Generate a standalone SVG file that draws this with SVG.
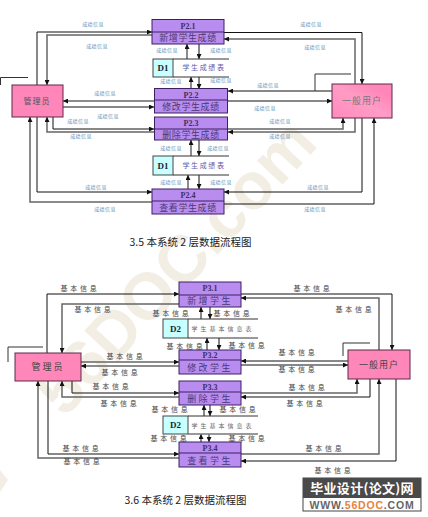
<svg xmlns="http://www.w3.org/2000/svg" width="428" height="517" viewBox="0 0 428 517">
<style>
text{font-family:"Liberation Serif","Noto Sans CJK SC",serif;text-anchor:middle}
.p{fill:#b98cf0;stroke:#3c2060;stroke-width:1}
.d{fill:none;stroke:#3c2060;stroke-width:1}
.e{fill:#ff86b8;stroke:#5a2a4a;stroke-width:1}
.s{fill:#c8ffff;stroke:#444;stroke-width:1}
.sl{fill:none;stroke:#333;stroke-width:1}
.sg{fill:none;stroke:#777;stroke-width:1.5}
.c{fill:none;stroke:#111;stroke-width:1}
.g{fill:none;stroke:#666;stroke-width:1.5}
.id{font-size:8px;font-weight:bold;fill:#40305a}
.nm{font-size:9px;fill:#4a3a70;letter-spacing:.6px;font-family:"Noto Sans CJK SC",sans-serif}
.en{font-size:8px;fill:#555;letter-spacing:1px;font-family:"Noto Sans CJK SC",sans-serif}
.f{font-size:5px;fill:#5f8fb5;letter-spacing:.4px;font-family:"Noto Sans CJK SC",sans-serif}
.b{font-size:7px;fill:#444;letter-spacing:2.8px;font-family:"Noto Sans CJK SC",sans-serif}
.st{font-size:7px;fill:#5a5ab0;letter-spacing:1.6px;font-family:"Noto Sans CJK SC",sans-serif}
.st2{font-size:6px;fill:#666;letter-spacing:3px;font-family:"Noto Sans CJK SC",sans-serif}
.sid{font-size:9px;fill:#223;font-weight:bold}
.n3{font-size:9px;fill:#4a3a70;letter-spacing:2.4px;font-family:"Noto Sans CJK SC",sans-serif}
.cap{font-size:10.500px;fill:#222;font-family:"Noto Sans CJK SC",sans-serif}
</style>
<defs>
<marker id="a" viewBox="0 0 6 6" refX="6" refY="3" markerWidth="6" markerHeight="5" markerUnits="userSpaceOnUse" orient="auto"><path d="M0 0L6 3L0 6Z" fill="#111"/></marker>
<linearGradient id="u" x1="0" y1="1" x2="1" y2="0"><stop offset="0" stop-color="#ff8abc"/><stop offset=".5" stop-color="#ff9cc6"/><stop offset=".8" stop-color="#ff86b8"/></linearGradient>
</defs>
<g id="watermark" fill="#f3eee4">
<text x="214" y="258" transform="translate(-22 24) rotate(-47 214 258)" style="font-family:'Liberation Sans',sans-serif;font-size:66px;font-weight:bold;fill:#f3eee4;text-anchor:middle">56DOC.com</text>
<path d="M0 470L8 480L0 492Z"/>
</g>
<g id="connectors">
<path class="c" d="M37 85V32H152" marker-end="url(#a)"/>
<path class="g" d="M152 35H47V85" marker-end="url(#a)"/>
<path class="c" d="M224 32.500H362V84" marker-end="url(#a)"/>
<path class="g" d="M355 84V39H224" marker-end="url(#a)"/>
<path class="g" d="M154 101H63" marker-end="url(#a)"/>
<path class="c" d="M63 107H154" marker-end="url(#a)"/>
<path class="c" d="M332 91H228" marker-end="url(#a)"/>
<path class="c" d="M228 101H332" marker-end="url(#a)"/>
<path class="c" d="M53 117V129H154" marker-end="url(#a)"/>
<path class="g" d="M154 132H47V117" marker-end="url(#a)"/>
<path class="c" d="M37 117V192H152" marker-end="url(#a)"/>
<path class="g" d="M152 202H30V117" marker-end="url(#a)"/>
<path class="g" d="M228 129H343V118" marker-end="url(#a)"/>
<path class="g" d="M355 118V132H228" marker-end="url(#a)"/>
<path class="c" d="M362 118V192H224" marker-end="url(#a)"/>
<path class="c" d="M224 204H374V118" marker-end="url(#a)"/>
<path class="g" d="M187 59V44" marker-end="url(#a)"/>
<path class="c" d="M199 44V59" marker-end="url(#a)"/>
<path class="g" d="M191 89V77" marker-end="url(#a)"/>
<path class="c" d="M199 77V89" marker-end="url(#a)"/>
<path class="g" d="M191 156V140" marker-end="url(#a)"/>
<path class="c" d="M199 140V156" marker-end="url(#a)"/>
<path class="g" d="M188 189V175" marker-end="url(#a)"/>
<path class="c" d="M199 175V189" marker-end="url(#a)"/>
<path class="c" d="M47 353V294H179" marker-end="url(#a)"/>
<path class="g" d="M179 304H62V353" marker-end="url(#a)"/>
<path class="g" d="M81 362H179" marker-end="url(#a)"/>
<path class="g" d="M179 366H81" marker-end="url(#a)"/>
<path class="c" d="M72 381V393H179" marker-end="url(#a)"/>
<path class="g" d="M179 397H62V381" marker-end="url(#a)"/>
<path class="c" d="M48 381V454H179" marker-end="url(#a)"/>
<path class="g" d="M179 458H38V381" marker-end="url(#a)"/>
<path class="c" d="M241 294H392V350" marker-end="url(#a)"/>
<path class="g" d="M379 350V298H241" marker-end="url(#a)"/>
<path class="c" d="M348 361H241" marker-end="url(#a)"/>
<path class="c" d="M241 365H348" marker-end="url(#a)"/>
<path class="g" d="M241 393H357V379" marker-end="url(#a)"/>
<path class="c" d="M370 379V397H241" marker-end="url(#a)"/>
<path class="g" d="M241 454H379V379" marker-end="url(#a)"/>
<path class="c" d="M396 379V461H241" marker-end="url(#a)"/>
<path class="c" d="M201 319V307" marker-end="url(#a)"/>
<path class="c" d="M210 307V319" marker-end="url(#a)"/>
<path class="c" d="M207 350V338" marker-end="url(#a)"/>
<path class="c" d="M219 338V350" marker-end="url(#a)"/>
<path class="c" d="M204 416V405" marker-end="url(#a)"/>
<path class="c" d="M210 405V416" marker-end="url(#a)"/>
<path class="c" d="M201 442V434" marker-end="url(#a)"/>
<path class="c" d="M209 434V442" marker-end="url(#a)"/>
</g>
<g id="labels-top">
<text class="f" x="93" y="26">成绩信息</text>
<text class="f" x="97" y="48">成绩信息</text>
<text class="f" x="105" y="95">成绩信息</text>
<text class="f" x="108" y="118">成绩信息</text>
<text class="f" x="78" y="123">成绩信息</text>
<text class="f" x="81" y="138">成绩信息</text>
<text class="f" x="96" y="189">成绩信息</text>
<text class="f" x="105" y="211">成绩信息</text>
<text class="f" x="167" y="52">成绩信息</text>
<text class="f" x="221" y="52">成绩信息</text>
<text class="f" x="171" y="83">成绩信息</text>
<text class="f" x="221" y="82">成绩信息</text>
<text class="f" x="171" y="150">成绩信息</text>
<text class="f" x="218" y="150">成绩信息</text>
<text class="f" x="171" y="184">成绩信息</text>
<text class="f" x="221" y="184">成绩信息</text>
<text class="f" x="311" y="26">成绩信息</text>
<text class="f" x="315" y="49">成绩信息</text>
<text class="f" x="268" y="87">成绩信息</text>
<text class="f" x="265" y="110">成绩信息</text>
<text class="f" x="280" y="123">成绩信息</text>
<text class="f" x="280" y="138">成绩信息</text>
<text class="f" x="318" y="189">成绩信息</text>
<text class="f" x="315" y="211">成绩信息</text>
</g>
<g id="labels-bottom">
<text class="b" x="80" y="291">基本信息</text>
<text class="b" x="94" y="312">基本信息</text>
<text class="b" x="172" y="316">基本信息</text>
<text class="b" x="233" y="316">基本信息</text>
<text class="b" x="186" y="349">基本信息</text>
<text class="b" x="248" y="348">基本信息</text>
<text class="b" x="126" y="359">基本信息</text>
<text class="b" x="121" y="375">基本信息</text>
<text class="b" x="112" y="389">基本信息</text>
<text class="b" x="313" y="291">基本信息</text>
<text class="b" x="355" y="312">基本信息</text>
<text class="b" x="298" y="355">基本信息</text>
<text class="b" x="298" y="372">基本信息</text>
<text class="b" x="308" y="390">基本信息</text>
<text class="b" x="120" y="406">基本信息</text>
<text class="b" x="306" y="406">基本信息</text>
<text class="b" x="171" y="412">基本信息</text>
<text class="b" x="239" y="412">基本信息</text>
<text class="b" x="170" y="441">基本信息</text>
<text class="b" x="248" y="441">基本信息</text>
<text class="b" x="82" y="451">基本信息</text>
<text class="b" x="83" y="464">基本信息</text>
<text class="b" x="325" y="451">基本信息</text>
<text class="b" x="334" y="473">基本信息</text>
</g>
<g id="admin1"><rect class="e" x="12" y="85" width="51" height="32"/><path class="sl" d="M.5 85V77.500H28"/><text class="en" x="37" y="104">管理员</text></g>
<g id="user1"><rect class="e" style="fill:url(#u)" x="332" y="84" width="60" height="34"/><path class="sl" d="M315 91V74H351"/><text class="en" style="font-size:9px;fill:#777" x="362" y="104">一般用户</text></g>
<g id="p21"><rect class="p" x="152" y="19.500" width="72" height="24.500"/><path class="d" d="M152 32H224"/><text class="id" x="188" y="29">P2.1</text><text class="nm" x="188" y="41">新增学生成绩</text></g>
<g id="p22"><rect class="p" x="154.500" y="88.500" width="73" height="24.500"/><path class="d" d="M154.500 100H227.500"/><text class="id" x="191" y="97.500">P2.2</text><text class="nm" x="191" y="110">修改学生成绩</text></g>
<g id="p23"><rect class="p" x="154.500" y="117" width="73" height="23"/><path class="d" d="M154.500 129H227.500"/><text class="id" x="191" y="125.500">P2.3</text><text class="nm" x="191" y="138">删除学生成绩</text></g>
<g id="p24"><rect class="p" x="152" y="189" width="72" height="25"/><path class="d" d="M152 201H224"/><text class="id" x="188" y="198">P2.4</text><text class="nm" x="188" y="211">查看学生成绩</text></g>
<g id="d1a"><rect class="s" x="153" y="59" width="20" height="18"/><path class="sl" d="M173 59H229M173 77H229"/><text class="sid" x="163" y="71">D1</text><text class="st" x="204" y="70">学生成绩表</text></g>
<g id="d1b"><rect class="s" x="153" y="156" width="20" height="19"/><path class="sl" d="M173 156H229M173 175H229"/><text class="sid" x="163" y="168.500">D1</text><text class="st" x="204" y="168">学生成绩表</text></g>
<text class="cap" x="190.500" y="246">3.5  本系统 2 层数据流程图</text>
<g id="admin2"><rect class="e" x="15" y="353" width="66" height="28"/><path class="sl" d="M8 362V347H43"/><text class="en" style="font-size:9px;fill:#444;letter-spacing:2px" x="48" y="370">管理员</text></g>
<g id="user2"><rect class="e" x="348" y="350" width="62" height="29"/><path class="sl" d="M343 356V343H370"/><text class="en" style="font-size:9px;fill:#444" x="379" y="368">一般用户</text></g>
<g id="p31"><rect class="p" x="179" y="282" width="62" height="25"/><path class="d" d="M179 295H241"/><text class="id" x="210" y="291">P3.1</text><text class="n3" x="210" y="304">新增学生</text></g>
<g id="p32"><rect class="p" x="179" y="350" width="62" height="24"/><path class="d" d="M179 360H241"/><text class="id" x="210" y="358">P3.2</text><text class="n3" x="210" y="371">修改学生</text></g>
<g id="p33"><rect class="p" x="179" y="381" width="62" height="24"/><path class="d" d="M179 392H241"/><text class="id" x="210" y="390">P3.3</text><text class="n3" x="210" y="402">删除学生</text></g>
<g id="p34"><rect class="p" x="179" y="442" width="62" height="25"/><path class="d" d="M179 453H241"/><text class="id" x="210" y="451">P3.4</text><text class="n3" x="210" y="464">查看学生</text></g>
<g id="d2a"><rect class="s" x="163" y="319" width="25" height="19"/><path class="sl" d="M188 319H258M188 338H258"/><text class="sid" x="175.500" y="332">D2</text><text class="st2" x="223" y="331">学生基本信息表</text></g>
<g id="d2b"><rect class="s" x="163" y="416" width="25" height="18"/><path class="sl" d="M188 416H258"/><path class="sg" d="M188 434H258"/><text class="sid" x="175.500" y="428">D2</text><text class="st2" x="223" y="427.500">学生基本信息表</text></g>
<text class="cap" x="185.500" y="504">3.6  本系统 2 层数据流程图</text>
<g id="logo"><rect x="303" y="478" width="118" height="33" fill="#fff" stroke="#444"/><rect x="303" y="478" width="118" height="20" fill="#4a4a4a"/><text x="362" y="493" style="font-family:'Noto Sans CJK SC',sans-serif;font-size:13px;font-weight:bold;fill:#fff;letter-spacing:.3px">毕业设计(论文)网</text><text x="362" y="509" style="font-family:'Liberation Sans',sans-serif;font-size:10.500px;font-weight:bold;fill:#666;letter-spacing:.8px">WWW.<tspan fill="#e8823a">56DOC</tspan>.COM</text></g>
</svg>
